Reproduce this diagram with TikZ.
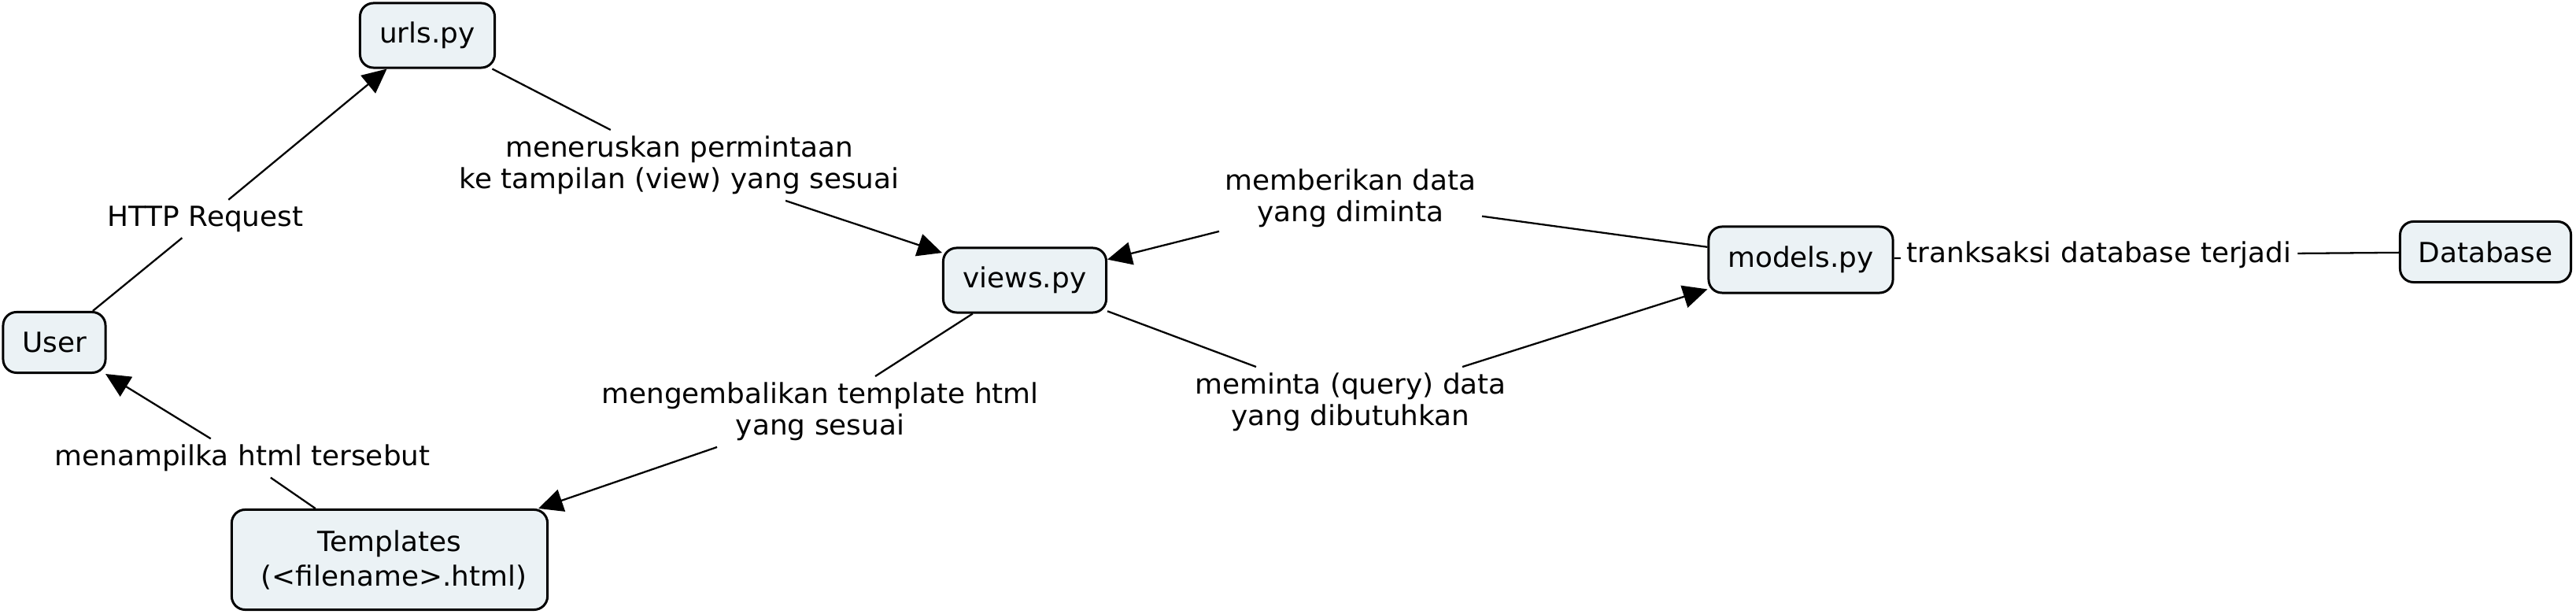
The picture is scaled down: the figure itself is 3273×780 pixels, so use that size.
\documentclass[tikz,border=0pt]{standalone}
\usepackage{fontspec}
\setmainfont{DejaVu Sans}[FakeStretch=1.02]
\usetikzlibrary{arrows.meta}
\definecolor{boxfill}{RGB}{235,242,245}
\begin{document}
\begin{tikzpicture}[x=0.01cm,y=-0.01cm,
  concept/.style={draw, line width=0.85pt, fill=boxfill, rounded corners=0.17cm, inner sep=0pt,
    font=\fontsize{10}{12.5}\selectfont, align=center},
  lab/.style={inner sep=2pt, font=\fontsize{10}{11.5}\selectfont, align=center},
  conn/.style={line width=0.65pt},
  arr/.style={conn, -{Triangle[length=0.31cm,width=0.29cm]}}]
\useasboundingbox (0,0) rectangle (3273,780);
% concepts
\node[concept, minimum width=1.71cm, minimum height=0.82cm] (urls) at (543,45) {urls.py};
\node[concept, minimum width=1.30cm, minimum height=0.77cm] (user) at (69,435) {User};
\node[concept, minimum width=4.01cm, minimum height=1.27cm] (tpl) at (495,711) {Templates\\\ (<filename>.html)};
\node[concept, minimum width=2.07cm, minimum height=0.82cm] (views) at (1302,356) {views.py};
\node[concept, minimum width=2.34cm, minimum height=0.84cm] (models) at (2288,330) {models.py};
\node[concept, minimum width=2.17cm, minimum height=0.77cm] (db) at (3158,320) {Database};
% linking phrases
\node[lab] (l1) at (261,278) {HTTP Request};
\node[lab] (l2) at (863,210) {meneruskan permintaan\\ke tampilan (view) yang sesuai};
\node[lab] (l3) at (1716,252) {memberikan data\\yang diminta};
\node[lab] (l4) at (1716,511) {meminta (query) data\\yang dibutuhkan};
\node[lab] (l5) at (1042,523) {mengembalikan template html\\yang sesuai};
\node[lab] (l6) at (308,582) {menampilka html tersebut};
\node[lab] (l7) at (2667,324) {tranksaksi database terjadi};
% connectors
\draw[conn] (user) -- (l1);
\draw[arr] (l1) -- (urls);
\draw[conn] (urls) -- (l2);
\draw[arr] (l2) -- (views);
\draw[conn] (models) -- (l3);
\draw[arr] (l3) -- (views);
\draw[conn] (views) -- (l4);
\draw[arr] (l4) -- (models);
\draw[conn] (views) -- (l5);
\draw[arr] (l5) -- (tpl);
\draw[conn] (tpl) -- (l6);
\draw[arr] (l6) -- (user);
\draw[conn] (models) -- (l7);
\draw[conn] (l7) -- (db);
\end{tikzpicture}
\end{document}
